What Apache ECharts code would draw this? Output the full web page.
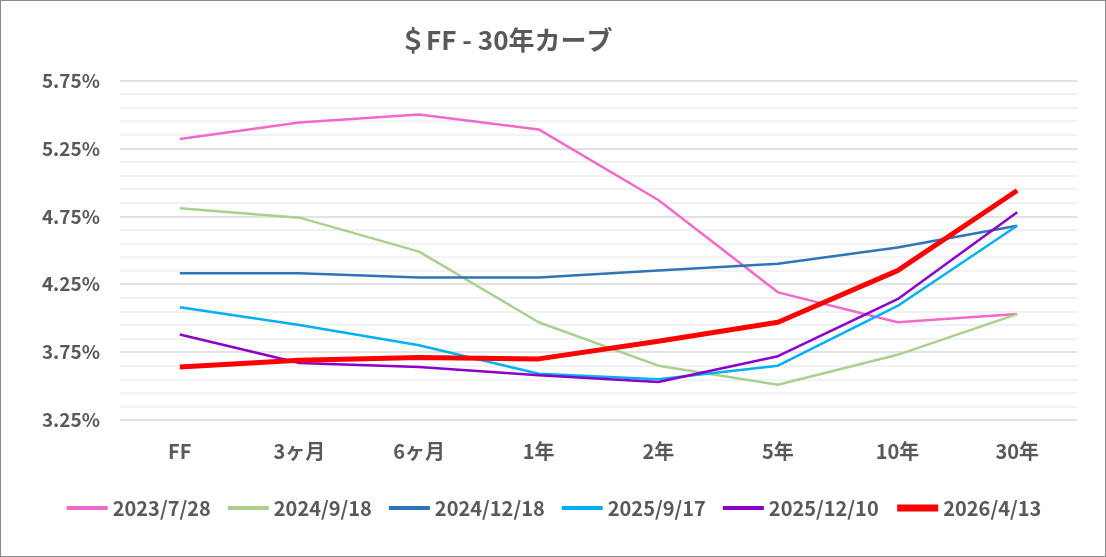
<!DOCTYPE html>
<html>
<head>
<meta charset="utf-8">
<script src="https://cdn.jsdelivr.net/npm/echarts@6/dist/echarts.min.js"></script>
<style>
html,body{margin:0;padding:0;background:#fff;}
#c{width:1104px;height:555px;border:1px solid #8a8a8a;}
</style>
</head>
<body>
<div id="c"></div>
<script>
const categories = ['FF', '3ヶ月', '6ヶ月', '1年', '2年', '5年', '10年', '30年'];
const seriesNames = ['2023/7/28', '2024/9/18', '2024/12/18', '2025/9/17', '2025/12/10', '2026/4/13'];
const s20230728 = [5.32, 5.44, 5.50, 5.39, 4.87, 4.19, 3.97, 4.03];
const s20240918 = [4.81, 4.74, 4.49, 3.97, 3.65, 3.51, 3.73, 4.03];
const s20241218 = [4.33, 4.33, 4.30, 4.30, 4.35, 4.40, 4.52, 4.68];
const s20250917 = [4.08, 3.95, 3.80, 3.59, 3.55, 3.65, 4.09, 4.68];
const s20251210 = [3.88, 3.67, 3.64, 3.58, 3.53, 3.72, 4.14, 4.78];
const s20260413 = [3.64, 3.69, 3.71, 3.70, 3.83, 3.97, 4.35, 4.94];
const seriesData = [s20230728, s20240918, s20241218, s20250917, s20251210, s20260413];
const colors = ['#F06AC9', '#A9D18E', '#2E75B6', '#00B0F0', '#8A00C8', '#FF0000'];
const widths = [2.5, 2.5, 2.5, 2.5, 2.5, 5];

const txt = '#595959';
const font = '"Noto Sans CJK JP", "Noto Sans", sans-serif';

const chart = echarts.init(document.getElementById('c'));
chart.setOption({
  animation: false,
  title: {
    text: '＄FF - 30年カーブ',
    left: 394, top: 21,
    textStyle: {color: txt, fontSize: 26, fontWeight: 'bold', fontFamily: font}
  },
  legend: {
    bottom: 33, left: 'center',
    itemWidth: 41, itemHeight: 14, itemGap: 15,
    itemStyle: {opacity: 0},
    data: seriesNames.map((n, i) => ({name: n, lineStyle: {width: i === 5 ? 7 : 4}})),
    textStyle: {color: txt, fontSize: 20, fontWeight: 'bold', fontFamily: font}
  },
  grid: {left: 119, right: 28, top: 79.5, bottom: 136},
  xAxis: {
    type: 'category', data: categories, boundaryGap: true,
    axisLine: {show: false}, axisTick: {show: false},
    axisLabel: {color: txt, fontSize: 20, fontWeight: 'bold', fontFamily: font, margin: 21}
  },
  yAxis: {
    type: 'value', min: 3.25, max: 5.75, interval: 0.5,
    axisLine: {show: false}, axisTick: {show: false},
    axisLabel: {color: txt, fontSize: 19, fontWeight: 'bold', fontFamily: font, margin: 20,
      formatter: v => v.toFixed(2) + '%'},
    splitLine: {lineStyle: {color: '#D9D9D9', width: 1.5}},
    minorTick: {show: false, splitNumber: 5},
    minorSplitLine: {show: true, lineStyle: {color: '#EEEEEE', width: 1.5}}
  },
  series: seriesNames.map((n, i) => ({
    name: n, type: 'line', data: seriesData[i],
    symbol: 'none', smooth: false,
    lineStyle: {color: colors[i], width: widths[i]},
    itemStyle: {color: colors[i]},
    z: i === 5 ? 10 : 2
  }))
});
</script>
</body>
</html>
